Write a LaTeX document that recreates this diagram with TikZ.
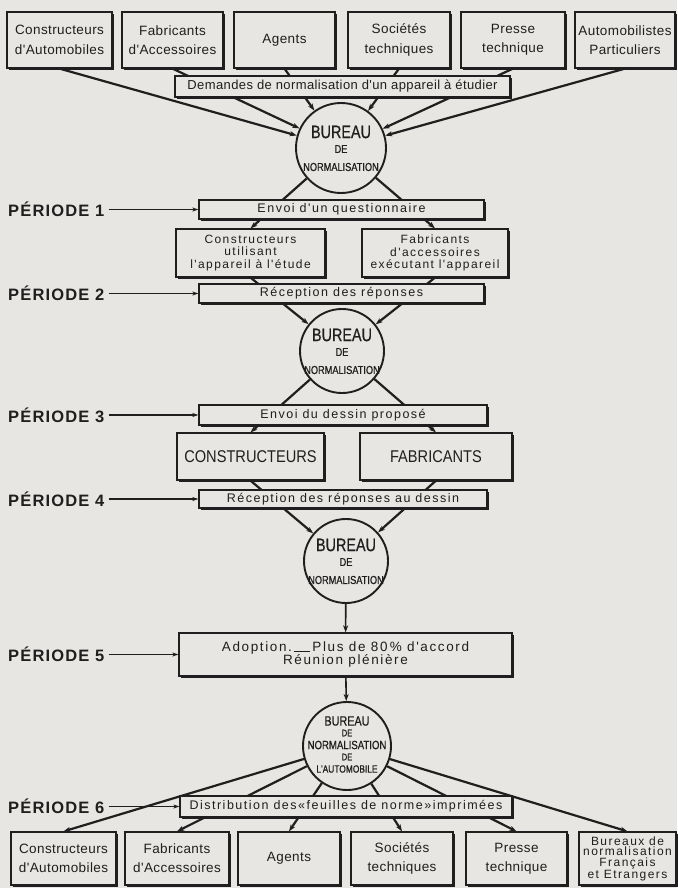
\documentclass[tikz,border=0pt]{standalone}
\usepackage{fontspec}
\setmainfont{Liberation Sans}
\newfontfamily\lsfont[LetterSpace=3]{Liberation Sans}
\newfontfamily\spfont[LetterSpace=12]{Liberation Sans}
\newfontfamily\nrfont[FakeStretch=0.8,FakeBold=0.6]{Liberation Sans}
\newfontfamily\capfont[FakeStretch=0.86]{Liberation Sans}
\newfontfamily\pfont[LetterSpace=7]{Liberation Sans}
\usetikzlibrary{arrows.meta,shadows,calc}
\definecolor{paper}{RGB}{231,230,226}
\definecolor{ink}{RGB}{32,30,30}
\pgfdeclarelayer{sheet}
\pgfdeclarelayer{wires}
\pgfsetlayers{sheet,wires,main}
\tikzset{
  card/.style={rectangle, draw=ink, line width=1.2pt, fill=paper, inner sep=0pt,
    align=center, text=ink,
    drop shadow={shadow xshift=1.6pt, shadow yshift=-1.6pt, opacity=1, fill=ink}},
  topcard/.style={card, minimum height=56pt, font=\lsfont\fontsize{13.5}{19.5}\selectfont},
  botcard/.style={card, minimum height=53pt, font=\lsfont\fontsize{13.5}{19}\selectfont},
  band/.style={card, font=\spfont\fontsize{12.5}{14}\selectfont},
  office/.style={circle, draw=ink, line width=1.9pt, fill=paper, inner sep=0pt},
  big/.style={text=ink, font=\nrfont\fontsize{18}{18}\selectfont},
  small/.style={text=ink, font=\nrfont\fontsize{11.5}{11.5}\selectfont},
  mid/.style={text=ink, font=\nrfont\fontsize{11.5}{11.5}\selectfont},
  wire/.style={draw=ink, line width=2.2pt, -{Stealth[length=7pt,width=5pt,inset=2pt]}},
  plabel/.style={text=ink, inner sep=0pt, font=\pfont\bfseries\fontsize{16.5}{16.5}\selectfont},
  parrow/.style={draw=ink, line width=1.1pt, shorten <=4pt, -{Stealth[length=6pt,width=4pt,inset=1.5pt]}}
}
\begin{document}
\begin{tikzpicture}[x=1pt,y=-1pt]
\begin{pgfonlayer}{sheet}
  \fill[paper] (0,0) rectangle (677,888);
\end{pgfonlayer}
\useasboundingbox (0,0) rectangle (677,888);

% requesting parties
\node[topcard, minimum width=105pt] (t1) at (59.5,40) {Constructeurs\\d'Automobiles};
\node[topcard, minimum width=101pt] (t2) at (172.5,40) {Fabricants\\d'Accessoires};
\node[topcard, minimum width=101pt] (t3) at (284.5,40) {Agents};
\node[topcard, minimum width=102pt] (t4) at (399,40) {Sociétés\\techniques};
\node[topcard, minimum width=104pt] (t5) at (513,40) {Presse\\technique};
\node[topcard, minimum width=100pt] (t6) at (625,40) {Automobilistes\\Particuliers};
\node[card, minimum width=335pt, minimum height=21pt, font=\lsfont\fontsize{13}{15}\selectfont] (dm) at (342.5,86.5) {Demandes de normalisation d'un appareil à étudier};

% first office
\node[office, minimum size=90pt] (c1) at (341,148) {};
\node[big] at ($(c1)+(0,-16)$) {BUREAU};
\node[small] at ($(c1)+(0,1)$) {DE};
\node[mid] at ($(c1)+(0,19)$) {NORMALISATION};

% period 1 and 2
\node[band, minimum width=285pt, minimum height=19pt] (q1) at (341.5,209.5) {Envoi d'un questionnaire};
\node[card, minimum width=149pt, minimum height=48pt, font=\spfont\fontsize{12}{12.5}\selectfont] (cu) at (250.5,253) {Constructeurs\\utilisant\\l'appareil à l'étude};
\node[card, minimum width=146pt, minimum height=48pt, font=\spfont\fontsize{12}{12.5}\selectfont] (fa) at (435,253) {Fabricants\\d'accessoires\\exécutant l'appareil};
\node[band, minimum width=285pt, minimum height=19pt] (q2) at (341.5,293.5) {Réception des réponses};

\node[office, minimum size=84pt] (c2) at (342,351) {};
\node[big] at ($(c2)+(0,-16)$) {BUREAU};
\node[small] at ($(c2)+(0,1)$) {DE};
\node[mid] at ($(c2)+(0,19)$) {NORMALISATION};

% period 3 and 4
\node[band, minimum width=288pt, minimum height=20pt] (q3) at (343,415) {Envoi du dessin proposé};
\node[card, minimum width=147pt, minimum height=47pt, font=\capfont\fontsize{17}{17}\selectfont] (kc) at (250.5,456.5) {CONSTRUCTEURS};
\node[card, minimum width=152pt, minimum height=47pt, font=\capfont\fontsize{17}{17}\selectfont] (kf) at (436,456.5) {FABRICANTS};
\node[band, minimum width=288pt, minimum height=18pt] (q4) at (343,499) {Réception des réponses au dessin};

\node[office, minimum size=84pt] (c3) at (346,561) {};
\node[big] at ($(c3)+(0,-16)$) {BUREAU};
\node[small] at ($(c3)+(0,1)$) {DE};
\node[mid] at ($(c3)+(0,19)$) {NORMALISATION};

% period 5
\node[card, minimum width=333pt, minimum height=43pt, font=\spfont\fontsize{13.5}{13}\selectfont] (q5) at (345.5,654.5)
  {Adoption.\,\rule[-0.5pt]{16pt}{1pt}\,Plus de 80\,\% d'accord\\Réunion plénière};

\node[office, minimum size=88pt] (c4) at (347,746) {};
\node[text=ink, font=\nrfont\fontsize{13.5}{13.5}\selectfont] at ($(c4)+(0,-25)$) {BUREAU};
\node[text=ink, font=\nrfont\fontsize{9.5}{9.5}\selectfont] at ($(c4)+(0,-13)$) {DE};
\node[text=ink, font=\nrfont\fontsize{12}{12}\selectfont] at ($(c4)+(0,-1)$) {NORMALISATION};
\node[text=ink, font=\nrfont\fontsize{9.5}{9.5}\selectfont] at ($(c4)+(0,11)$) {DE};
\node[text=ink, font=\nrfont\fontsize{10.5}{10.5}\selectfont] at ($(c4)+(0,23)$) {L'AUTOMOBILE};

% period 6
\node[band, minimum width=332pt, minimum height=21pt] (q6) at (346,806.5) {Distribution des«feuilles de norme»imprimées};
\node[botcard, minimum width=105pt] (b1) at (63.5,858.5) {Constructeurs\\d'Automobiles};
\node[botcard, minimum width=104pt] (b2) at (177,858.5) {Fabricants\\d'Accessoires};
\node[botcard, minimum width=102pt] (b3) at (289,858.5) {Agents};
\node[botcard, minimum width=102pt] (b4) at (402,858.5) {Sociétés\\techniques};
\node[botcard, minimum width=101pt] (b5) at (516.5,858.5) {Presse\\technique};
\node[botcard, minimum width=97pt, font=\spfont\fontsize{12}{10.5}\selectfont] (b6) at (627.5,858.5) {Bureaux de\\normalisation\\Français\\et Etrangers};

% period labels
\node[plabel, anchor=west] (p1) at (8,209.5) {PÉRIODE 1};
\node[plabel, anchor=west] (p2) at (8,293.5) {PÉRIODE 2};
\node[plabel, anchor=west] (p3) at (8,415) {PÉRIODE 3};
\node[plabel, anchor=west] (p4) at (8,499) {PÉRIODE 4};
\node[plabel, anchor=west] (p5) at (8,654.5) {PÉRIODE 5};
\node[plabel, anchor=west] (p6) at (8,806.5) {PÉRIODE 6};
\foreach \i in {1,...,6} \draw[parrow] (p\i.east) -- (q\i.west);

% flows, passing under the bands
\begin{pgfonlayer}{wires}
  \foreach \b in {t1,t2,t3,t4,t5,t6} \draw[wire] (\b.south) -- (c1);
  \draw[wire] (c1) -- (cu.north);
  \draw[wire] (c1) -- (fa.north);
  \draw[wire] (cu.south) -- (c2);
  \draw[wire] (fa.south) -- (c2);
  \draw[wire] (c2) -- (kc.north);
  \draw[wire] (c2) -- (kf.north);
  \draw[wire] (kc.south) -- (c3);
  \draw[wire] (kf.south) -- (c3);
  \draw[wire, line width=1.6pt] (c3) -- (q5);
  \draw[wire, line width=1.6pt] (q5) -- (c4);
  \foreach \b in {b1,b2,b3,b4,b5,b6} \draw[wire] (c4) -- (\b.north);
\end{pgfonlayer}
\end{tikzpicture}
\end{document}
